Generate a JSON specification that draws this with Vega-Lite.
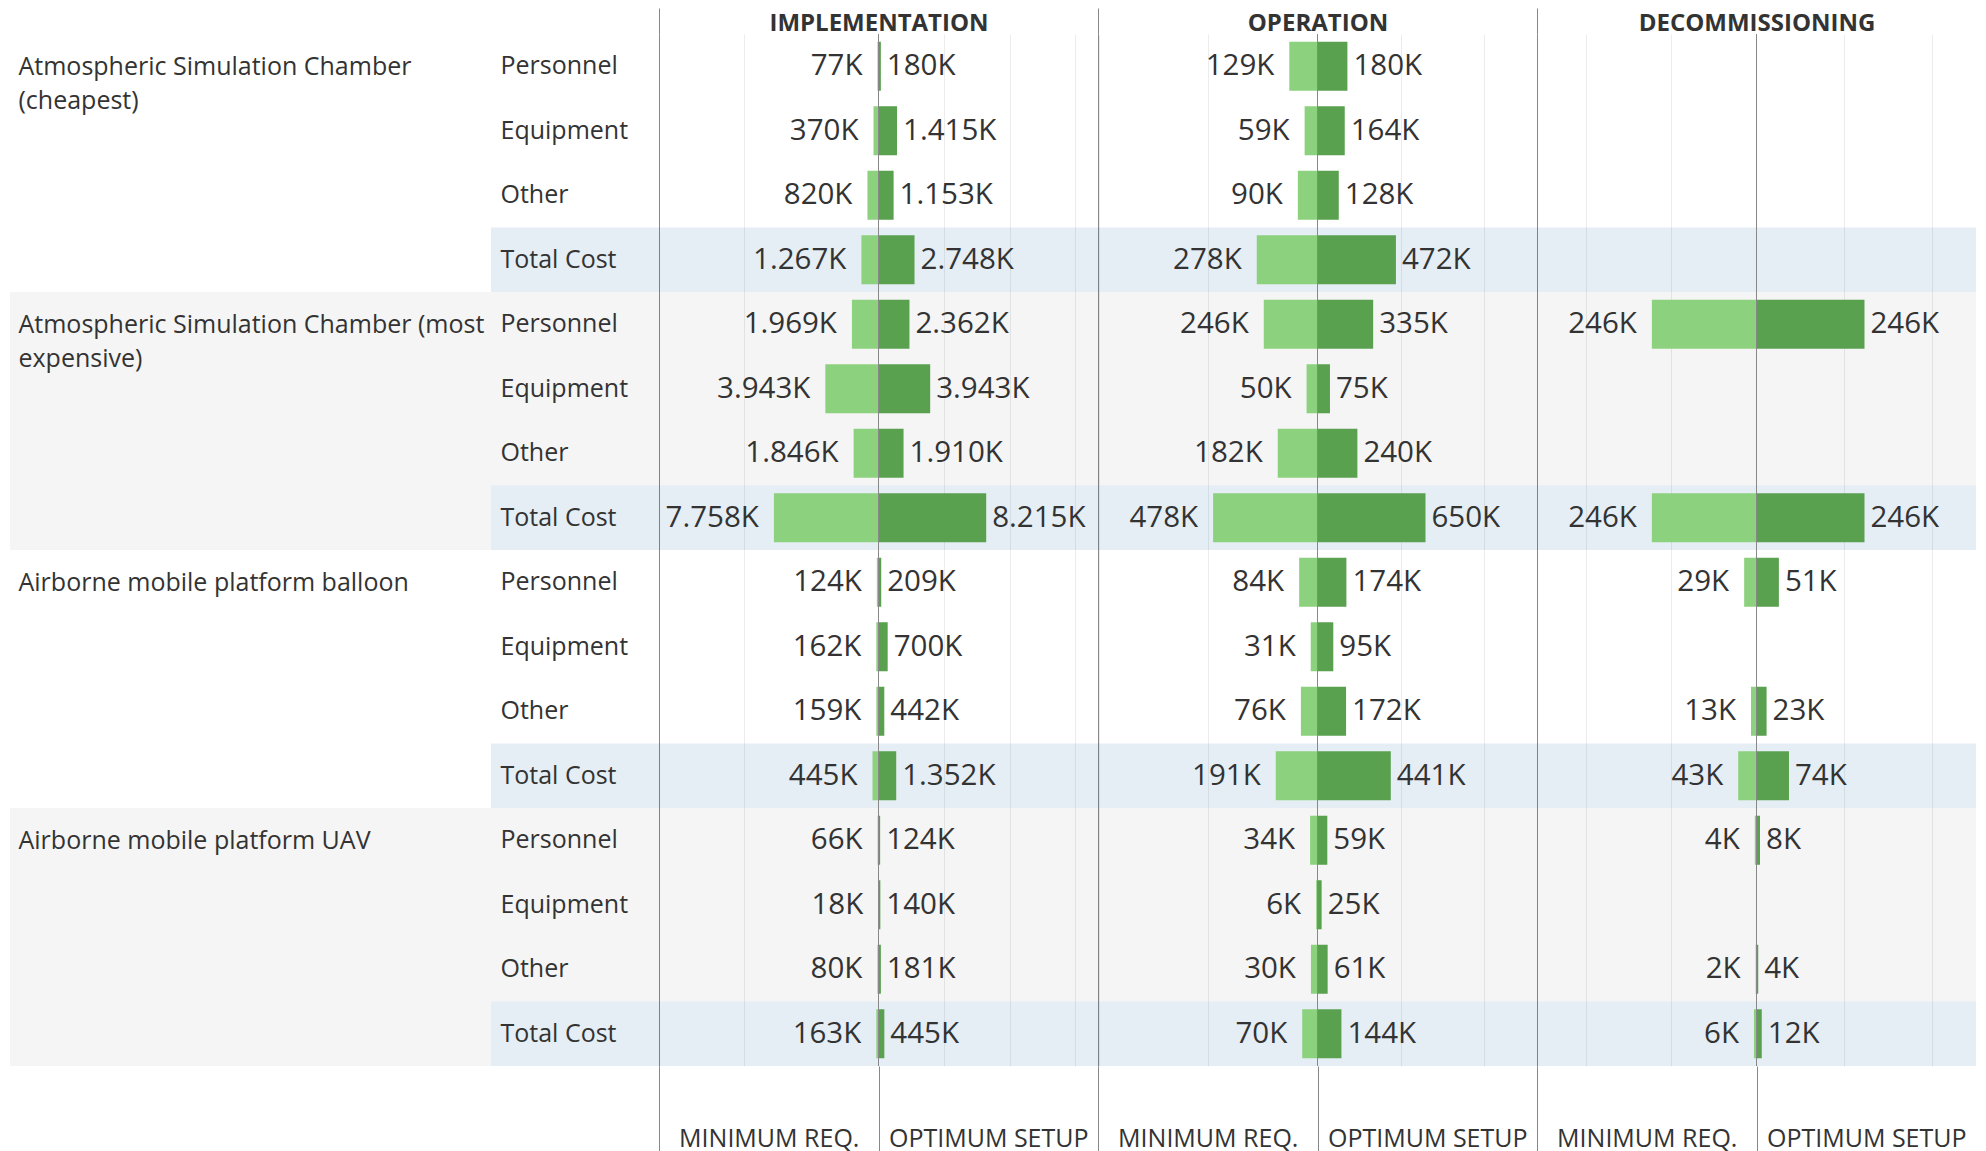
{
  "$schema": "https://vega.github.io/schema/vega-lite/v6.json",
  "padding": {"left": 10, "top": 7, "right": 10, "bottom": 0},
  "bounds": "flush",
  "spacing": 0,
  "background": "white",
  "config": {"view": {"stroke": null}, "font": "Open Sans"},
  "datasets": {
    "costs": [
      {"facility": "Atmospheric Simulation Chamber (cheapest)", "category": "Personnel", "phase": "Implementation", "min": 77, "opt": 180},
      {"facility": "Atmospheric Simulation Chamber (cheapest)", "category": "Equipment", "phase": "Implementation", "min": 370, "opt": 1415},
      {"facility": "Atmospheric Simulation Chamber (cheapest)", "category": "Other", "phase": "Implementation", "min": 820, "opt": 1153},
      {"facility": "Atmospheric Simulation Chamber (cheapest)", "category": "Total Cost", "phase": "Implementation", "min": 1267, "opt": 2748},
      {"facility": "Atmospheric Simulation Chamber (most expensive)", "category": "Personnel", "phase": "Implementation", "min": 1969, "opt": 2362},
      {"facility": "Atmospheric Simulation Chamber (most expensive)", "category": "Equipment", "phase": "Implementation", "min": 3943, "opt": 3943},
      {"facility": "Atmospheric Simulation Chamber (most expensive)", "category": "Other", "phase": "Implementation", "min": 1846, "opt": 1910},
      {"facility": "Atmospheric Simulation Chamber (most expensive)", "category": "Total Cost", "phase": "Implementation", "min": 7758, "opt": 8215},
      {"facility": "Airborne mobile platform balloon", "category": "Personnel", "phase": "Implementation", "min": 124, "opt": 209},
      {"facility": "Airborne mobile platform balloon", "category": "Equipment", "phase": "Implementation", "min": 162, "opt": 700},
      {"facility": "Airborne mobile platform balloon", "category": "Other", "phase": "Implementation", "min": 159, "opt": 442},
      {"facility": "Airborne mobile platform balloon", "category": "Total Cost", "phase": "Implementation", "min": 445, "opt": 1352},
      {"facility": "Airborne mobile platform UAV", "category": "Personnel", "phase": "Implementation", "min": 66, "opt": 124},
      {"facility": "Airborne mobile platform UAV", "category": "Equipment", "phase": "Implementation", "min": 18, "opt": 140},
      {"facility": "Airborne mobile platform UAV", "category": "Other", "phase": "Implementation", "min": 80, "opt": 181},
      {"facility": "Airborne mobile platform UAV", "category": "Total Cost", "phase": "Implementation", "min": 163, "opt": 445},
      {"facility": "Atmospheric Simulation Chamber (cheapest)", "category": "Personnel", "phase": "Operation", "min": 129, "opt": 180},
      {"facility": "Atmospheric Simulation Chamber (cheapest)", "category": "Equipment", "phase": "Operation", "min": 59, "opt": 164},
      {"facility": "Atmospheric Simulation Chamber (cheapest)", "category": "Other", "phase": "Operation", "min": 90, "opt": 128},
      {"facility": "Atmospheric Simulation Chamber (cheapest)", "category": "Total Cost", "phase": "Operation", "min": 278, "opt": 472},
      {"facility": "Atmospheric Simulation Chamber (most expensive)", "category": "Personnel", "phase": "Operation", "min": 246, "opt": 335},
      {"facility": "Atmospheric Simulation Chamber (most expensive)", "category": "Equipment", "phase": "Operation", "min": 50, "opt": 75},
      {"facility": "Atmospheric Simulation Chamber (most expensive)", "category": "Other", "phase": "Operation", "min": 182, "opt": 240},
      {"facility": "Atmospheric Simulation Chamber (most expensive)", "category": "Total Cost", "phase": "Operation", "min": 478, "opt": 650},
      {"facility": "Airborne mobile platform balloon", "category": "Personnel", "phase": "Operation", "min": 84, "opt": 174},
      {"facility": "Airborne mobile platform balloon", "category": "Equipment", "phase": "Operation", "min": 31, "opt": 95},
      {"facility": "Airborne mobile platform balloon", "category": "Other", "phase": "Operation", "min": 76, "opt": 172},
      {"facility": "Airborne mobile platform balloon", "category": "Total Cost", "phase": "Operation", "min": 191, "opt": 441},
      {"facility": "Airborne mobile platform UAV", "category": "Personnel", "phase": "Operation", "min": 34, "opt": 59},
      {"facility": "Airborne mobile platform UAV", "category": "Equipment", "phase": "Operation", "min": 6, "opt": 25},
      {"facility": "Airborne mobile platform UAV", "category": "Other", "phase": "Operation", "min": 30, "opt": 61},
      {"facility": "Airborne mobile platform UAV", "category": "Total Cost", "phase": "Operation", "min": 70, "opt": 144},
      {"facility": "Atmospheric Simulation Chamber (most expensive)", "category": "Personnel", "phase": "Decommissioning", "min": 246, "opt": 246},
      {"facility": "Atmospheric Simulation Chamber (most expensive)", "category": "Total Cost", "phase": "Decommissioning", "min": 246, "opt": 246},
      {"facility": "Airborne mobile platform balloon", "category": "Personnel", "phase": "Decommissioning", "min": 29, "opt": 51},
      {"facility": "Airborne mobile platform balloon", "category": "Other", "phase": "Decommissioning", "min": 13, "opt": 23},
      {"facility": "Airborne mobile platform balloon", "category": "Total Cost", "phase": "Decommissioning", "min": 43, "opt": 74},
      {"facility": "Airborne mobile platform UAV", "category": "Personnel", "phase": "Decommissioning", "min": 4, "opt": 8},
      {"facility": "Airborne mobile platform UAV", "category": "Other", "phase": "Decommissioning", "min": 2, "opt": 4},
      {"facility": "Airborne mobile platform UAV", "category": "Total Cost", "phase": "Decommissioning", "min": 6, "opt": 12}
    ]
  },
  "hconcat": [
    {
      "width": 481, "height": 1032,
      "data": {"name": "costs"},
      "transform": [
        {"filter": "datum.phase == 'Implementation' && (datum.facility == 'Atmospheric Simulation Chamber (most expensive)' || datum.facility == 'Airborne mobile platform UAV')"},
        {"calculate": "datum.facility + '|' + datum.category", "as": "row"}
      ],
      "mark": {"type": "rect", "color": "#000000", "opacity": 0.04},
      "encoding": {
        "y": {"field": "row", "type": "nominal",
          "scale": {"domain": ["Atmospheric Simulation Chamber (cheapest)|Personnel","Atmospheric Simulation Chamber (cheapest)|Equipment","Atmospheric Simulation Chamber (cheapest)|Other","Atmospheric Simulation Chamber (cheapest)|Total Cost","Atmospheric Simulation Chamber (most expensive)|Personnel","Atmospheric Simulation Chamber (most expensive)|Equipment","Atmospheric Simulation Chamber (most expensive)|Other","Atmospheric Simulation Chamber (most expensive)|Total Cost","Airborne mobile platform balloon|Personnel","Airborne mobile platform balloon|Equipment","Airborne mobile platform balloon|Other","Airborne mobile platform balloon|Total Cost","Airborne mobile platform UAV|Personnel","Airborne mobile platform UAV|Equipment","Airborne mobile platform UAV|Other","Airborne mobile platform UAV|Total Cost"], "paddingInner": 0, "paddingOuter": 0},
          "axis": {"orient": "left", "title": null, "domain": false, "ticks": false, "tickSize": 0, "grid": false,
            "labelAlign": "left", "labelPadding": -8, "labelBaseline": "alphabetic", "labelOffset": 9, "labelLineHeight": 34,
            "labelFont": "Open Sans", "labelFontSize": 25, "labelColor": "#333333", "labelLimit": 1000, "labelOverlap": false,
            "minExtent": 0, "zindex": 1,
            "labelExpr": "split(datum.value, '|')[1] == 'Personnel' ? split(replace(replace(split(datum.value, '|')[0], ' (cheapest)', '~(cheapest)'), ' expensive)', '~expensive)'), '~') : ''"}
        }
      }
    },
    {
      "width": 168, "height": 1032,
      "data": {"name": "costs"},
      "transform": [
        {"filter": "datum.phase == 'Implementation' && (datum.category == 'Total Cost' || datum.facility == 'Atmospheric Simulation Chamber (most expensive)' || datum.facility == 'Airborne mobile platform UAV')"},
        {"calculate": "datum.facility + '|' + datum.category", "as": "row"}
      ],
      "mark": {"type": "rect"},
      "encoding": {
        "y": {"field": "row", "type": "nominal",
          "scale": {"domain": ["Atmospheric Simulation Chamber (cheapest)|Personnel","Atmospheric Simulation Chamber (cheapest)|Equipment","Atmospheric Simulation Chamber (cheapest)|Other","Atmospheric Simulation Chamber (cheapest)|Total Cost","Atmospheric Simulation Chamber (most expensive)|Personnel","Atmospheric Simulation Chamber (most expensive)|Equipment","Atmospheric Simulation Chamber (most expensive)|Other","Atmospheric Simulation Chamber (most expensive)|Total Cost","Airborne mobile platform balloon|Personnel","Airborne mobile platform balloon|Equipment","Airborne mobile platform balloon|Other","Airborne mobile platform balloon|Total Cost","Airborne mobile platform UAV|Personnel","Airborne mobile platform UAV|Equipment","Airborne mobile platform UAV|Other","Airborne mobile platform UAV|Total Cost"], "paddingInner": 0, "paddingOuter": 0},
          "axis": {"orient": "left", "title": null, "domain": false, "ticks": false, "tickSize": 0, "grid": false,
            "labelAlign": "left", "labelPadding": -9, "labelBaseline": "middle",
            "labelFont": "Open Sans", "labelFontSize": 25, "labelColor": "#333333", "labelLimit": 1000, "labelOverlap": false,
            "minExtent": 0, "zindex": 1,
            "labelExpr": "split(datum.value, '|')[1]"}
        },
        "color": {"condition": {"test": "datum.category == 'Total Cost'", "value": "#005aa0"}, "value": "#000000"},
        "opacity": {"condition": {"test": "datum.category == 'Total Cost'", "value": 0.1}, "value": 0.04}
      }
    },
    {
      "width": 439, "height": 1032,
      "resolve": {"scale": {"x": "independent"}},
      "layer": [
        {
          "data": {"name": "costs"},
          "transform": [
            {"filter": "datum.phase == 'Implementation' && (datum.category == 'Total Cost' || datum.facility == 'Atmospheric Simulation Chamber (most expensive)' || datum.facility == 'Airborne mobile platform UAV')"},
            {"calculate": "datum.facility + '|' + datum.category", "as": "row"}
          ],
          "mark": {"type": "rect"},
          "encoding": {
            "y": {"field": "row", "type": "nominal", "axis": null,
              "scale": {"domain": ["Atmospheric Simulation Chamber (cheapest)|Personnel","Atmospheric Simulation Chamber (cheapest)|Equipment","Atmospheric Simulation Chamber (cheapest)|Other","Atmospheric Simulation Chamber (cheapest)|Total Cost","Atmospheric Simulation Chamber (most expensive)|Personnel","Atmospheric Simulation Chamber (most expensive)|Equipment","Atmospheric Simulation Chamber (most expensive)|Other","Atmospheric Simulation Chamber (most expensive)|Total Cost","Airborne mobile platform balloon|Personnel","Airborne mobile platform balloon|Equipment","Airborne mobile platform balloon|Other","Airborne mobile platform balloon|Total Cost","Airborne mobile platform UAV|Personnel","Airborne mobile platform UAV|Equipment","Airborne mobile platform UAV|Other","Airborne mobile platform UAV|Total Cost"], "paddingInner": 0, "paddingOuter": 0}},
            "color": {"condition": {"test": "datum.category == 'Total Cost'", "value": "#005aa0"}, "value": "#000000"},
            "opacity": {"condition": {"test": "datum.category == 'Total Cost'", "value": 0.1}, "value": 0.04}
          }
        },
        {
          "data": {"name": "costs"},
          "transform": [
            {"filter": "datum.phase == 'Implementation'"},
            {"calculate": "datum.facility + '|' + datum.category", "as": "row"},
            {"calculate": "replace(format(datum.min, ','), ',', '.') + 'K'", "as": "label"}
          ],
          "encoding": {
            "y": {"field": "row", "type": "nominal", "axis": null,
              "scale": {"domain": ["Atmospheric Simulation Chamber (cheapest)|Personnel","Atmospheric Simulation Chamber (cheapest)|Equipment","Atmospheric Simulation Chamber (cheapest)|Other","Atmospheric Simulation Chamber (cheapest)|Total Cost","Atmospheric Simulation Chamber (most expensive)|Personnel","Atmospheric Simulation Chamber (most expensive)|Equipment","Atmospheric Simulation Chamber (most expensive)|Other","Atmospheric Simulation Chamber (most expensive)|Total Cost","Airborne mobile platform balloon|Personnel","Airborne mobile platform balloon|Equipment","Airborne mobile platform balloon|Other","Airborne mobile platform balloon|Total Cost","Airborne mobile platform UAV|Personnel","Airborne mobile platform UAV|Equipment","Airborne mobile platform UAV|Other","Airborne mobile platform UAV|Total Cost"], "paddingInner": 0, "paddingOuter": 0}},
            "x": {"field": "min", "type": "quantitative",
              "scale": {"domain": [-16280, 16280], "reverse": true, "nice": false, "zero": false},
              "axis": {"orient": "bottom", "values": [16280, 8140, 10000, 0, -8140], "title": null, "domain": false,
                "grid": true,
                "gridColor": {"condition": [{"test": "datum.value == 16280", "value": "#888888"}, {"test": "datum.value == 0 || datum.value == 8140 || datum.value == -8140", "value": "transparent"}], "value": "#ececec"},
                "ticks": true, "tickSize": 86, "tickColor": "#888888", "tickWidth": 1,
                "tickOpacity": {"condition": {"test": "datum.value == 0 || datum.value == 16280", "value": 1}, "value": 0},
                "labelExpr": "datum.value == 8140 ? 'MINIMUM REQ.' : datum.value == -8140 ? 'OPTIMUM SETUP' : ''",
                "labelPadding": -6, "labelBaseline": "alphabetic", "labelAlign": "center", "labelFont": "Open Sans", "labelFontSize": 25,
                "labelColor": "#333333", "labelFlush": false, "labelOverlap": false, "labelLimit": 1000, "minExtent": 0}}
          },
          "layer": [
            {"mark": {"type": "bar", "height": {"band": 0.76}, "color": "#8CD17D"}, "encoding": {"x2": {"datum": 0}}},
            {"mark": {"type": "text", "align": "right", "dx": -15, "baseline": "middle", "font": "Open Sans", "fontSize": 29.5, "color": "#333333"},
             "encoding": {"text": {"field": "label"}}}
          ]
        },
        {
          "data": {"name": "costs"},
          "transform": [
            {"filter": "datum.phase == 'Implementation'"},
            {"calculate": "datum.facility + '|' + datum.category", "as": "row"},
            {"calculate": "replace(format(datum.opt, ','), ',', '.') + 'K'", "as": "label"}
          ],
          "encoding": {
            "y": {"field": "row", "type": "nominal", "axis": null,
              "scale": {"domain": ["Atmospheric Simulation Chamber (cheapest)|Personnel","Atmospheric Simulation Chamber (cheapest)|Equipment","Atmospheric Simulation Chamber (cheapest)|Other","Atmospheric Simulation Chamber (cheapest)|Total Cost","Atmospheric Simulation Chamber (most expensive)|Personnel","Atmospheric Simulation Chamber (most expensive)|Equipment","Atmospheric Simulation Chamber (most expensive)|Other","Atmospheric Simulation Chamber (most expensive)|Total Cost","Airborne mobile platform balloon|Personnel","Airborne mobile platform balloon|Equipment","Airborne mobile platform balloon|Other","Airborne mobile platform balloon|Total Cost","Airborne mobile platform UAV|Personnel","Airborne mobile platform UAV|Equipment","Airborne mobile platform UAV|Other","Airborne mobile platform UAV|Total Cost"], "paddingInner": 0, "paddingOuter": 0}},
            "x": {"field": "opt", "type": "quantitative",
              "scale": {"domain": [-16743, 16743], "nice": false, "zero": false},
              "axis": {"orient": "top", "values": [-16743, 5000, 10000, 15000], "domain": false, "labels": false,
                "title": "IMPLEMENTATION", "titleFont": "Open Sans", "titleFontSize": 24, "titleFontWeight": "bold", "titleColor": "#333333", "titlePadding": -28,
                "grid": true,
                "gridColor": {"condition": {"test": "datum.value == -16743", "value": "transparent"}, "value": "#ececec"},
                "ticks": true, "tickSize": 26, "tickColor": "#888888", "tickWidth": 1,
                "tickOpacity": {"condition": {"test": "datum.value == -16743", "value": 1}, "value": 0},
                "minExtent": 0}}
          },
          "layer": [
            {"mark": {"type": "bar", "height": {"band": 0.76}, "color": "#59A14F"}, "encoding": {"x2": {"datum": 0}}},
            {"mark": {"type": "text", "align": "left", "dx": 6, "baseline": "middle", "font": "Open Sans", "fontSize": 29.5, "color": "#333333"},
             "encoding": {"text": {"field": "label"}}}
          ]
        },
        {
          "data": {"values": [{"center": 0}]},
          "mark": {"type": "rule", "color": "#888888", "strokeWidth": 1},
          "encoding": {"x": {"field": "center", "type": "quantitative", "scale": {"domain": [-1, 1]}, "axis": null}}
        }
      ]
    },
    {
      "width": 439, "height": 1032,
      "resolve": {"scale": {"x": "independent"}},
      "layer": [
        {
          "data": {"name": "costs"},
          "transform": [
            {"filter": "datum.phase == 'Implementation' && (datum.category == 'Total Cost' || datum.facility == 'Atmospheric Simulation Chamber (most expensive)' || datum.facility == 'Airborne mobile platform UAV')"},
            {"calculate": "datum.facility + '|' + datum.category", "as": "row"}
          ],
          "mark": {"type": "rect"},
          "encoding": {
            "y": {"field": "row", "type": "nominal", "axis": null,
              "scale": {"domain": ["Atmospheric Simulation Chamber (cheapest)|Personnel","Atmospheric Simulation Chamber (cheapest)|Equipment","Atmospheric Simulation Chamber (cheapest)|Other","Atmospheric Simulation Chamber (cheapest)|Total Cost","Atmospheric Simulation Chamber (most expensive)|Personnel","Atmospheric Simulation Chamber (most expensive)|Equipment","Atmospheric Simulation Chamber (most expensive)|Other","Atmospheric Simulation Chamber (most expensive)|Total Cost","Airborne mobile platform balloon|Personnel","Airborne mobile platform balloon|Equipment","Airborne mobile platform balloon|Other","Airborne mobile platform balloon|Total Cost","Airborne mobile platform UAV|Personnel","Airborne mobile platform UAV|Equipment","Airborne mobile platform UAV|Other","Airborne mobile platform UAV|Total Cost"], "paddingInner": 0, "paddingOuter": 0}},
            "color": {"condition": {"test": "datum.category == 'Total Cost'", "value": "#005aa0"}, "value": "#000000"},
            "opacity": {"condition": {"test": "datum.category == 'Total Cost'", "value": 0.1}, "value": 0.04}
          }
        },
        {
          "data": {"name": "costs"},
          "transform": [
            {"filter": "datum.phase == 'Operation'"},
            {"calculate": "datum.facility + '|' + datum.category", "as": "row"},
            {"calculate": "replace(format(datum.min, ','), ',', '.') + 'K'", "as": "label"}
          ],
          "encoding": {
            "y": {"field": "row", "type": "nominal", "axis": null,
              "scale": {"domain": ["Atmospheric Simulation Chamber (cheapest)|Personnel","Atmospheric Simulation Chamber (cheapest)|Equipment","Atmospheric Simulation Chamber (cheapest)|Other","Atmospheric Simulation Chamber (cheapest)|Total Cost","Atmospheric Simulation Chamber (most expensive)|Personnel","Atmospheric Simulation Chamber (most expensive)|Equipment","Atmospheric Simulation Chamber (most expensive)|Other","Atmospheric Simulation Chamber (most expensive)|Total Cost","Airborne mobile platform balloon|Personnel","Airborne mobile platform balloon|Equipment","Airborne mobile platform balloon|Other","Airborne mobile platform balloon|Total Cost","Airborne mobile platform UAV|Personnel","Airborne mobile platform UAV|Equipment","Airborne mobile platform UAV|Other","Airborne mobile platform UAV|Total Cost"], "paddingInner": 0, "paddingOuter": 0}},
            "x": {"field": "min", "type": "quantitative",
              "scale": {"domain": [-1005, 1005], "reverse": true, "nice": false, "zero": false},
              "axis": {"orient": "bottom", "values": [1005, 502.5, 500, 1000, 0, -502.5], "title": null, "domain": false,
                "grid": true,
                "gridColor": {"condition": [{"test": "datum.value == 1005", "value": "#888888"}, {"test": "datum.value == 0 || datum.value == 502.5 || datum.value == -502.5", "value": "transparent"}], "value": "#ececec"},
                "ticks": true, "tickSize": 86, "tickColor": "#888888", "tickWidth": 1,
                "tickOpacity": {"condition": {"test": "datum.value == 0 || datum.value == 1005", "value": 1}, "value": 0},
                "labelExpr": "datum.value == 502.5 ? 'MINIMUM REQ.' : datum.value == -502.5 ? 'OPTIMUM SETUP' : ''",
                "labelPadding": -6, "labelBaseline": "alphabetic", "labelAlign": "center", "labelFont": "Open Sans", "labelFontSize": 25,
                "labelColor": "#333333", "labelFlush": false, "labelOverlap": false, "labelLimit": 1000, "minExtent": 0}}
          },
          "layer": [
            {"mark": {"type": "bar", "height": {"band": 0.76}, "color": "#8CD17D"}, "encoding": {"x2": {"datum": 0}}},
            {"mark": {"type": "text", "align": "right", "dx": -15, "baseline": "middle", "font": "Open Sans", "fontSize": 29.5, "color": "#333333"},
             "encoding": {"text": {"field": "label"}}}
          ]
        },
        {
          "data": {"name": "costs"},
          "transform": [
            {"filter": "datum.phase == 'Operation'"},
            {"calculate": "datum.facility + '|' + datum.category", "as": "row"},
            {"calculate": "replace(format(datum.opt, ','), ',', '.') + 'K'", "as": "label"}
          ],
          "encoding": {
            "y": {"field": "row", "type": "nominal", "axis": null,
              "scale": {"domain": ["Atmospheric Simulation Chamber (cheapest)|Personnel","Atmospheric Simulation Chamber (cheapest)|Equipment","Atmospheric Simulation Chamber (cheapest)|Other","Atmospheric Simulation Chamber (cheapest)|Total Cost","Atmospheric Simulation Chamber (most expensive)|Personnel","Atmospheric Simulation Chamber (most expensive)|Equipment","Atmospheric Simulation Chamber (most expensive)|Other","Atmospheric Simulation Chamber (most expensive)|Total Cost","Airborne mobile platform balloon|Personnel","Airborne mobile platform balloon|Equipment","Airborne mobile platform balloon|Other","Airborne mobile platform balloon|Total Cost","Airborne mobile platform UAV|Personnel","Airborne mobile platform UAV|Equipment","Airborne mobile platform UAV|Other","Airborne mobile platform UAV|Total Cost"], "paddingInner": 0, "paddingOuter": 0}},
            "x": {"field": "opt", "type": "quantitative",
              "scale": {"domain": [-1321, 1321], "nice": false, "zero": false},
              "axis": {"orient": "top", "values": [-1321, 500, 1000], "domain": false, "labels": false,
                "title": "OPERATION", "titleFont": "Open Sans", "titleFontSize": 24, "titleFontWeight": "bold", "titleColor": "#333333", "titlePadding": -28,
                "grid": true,
                "gridColor": {"condition": {"test": "datum.value == -1321", "value": "transparent"}, "value": "#ececec"},
                "ticks": true, "tickSize": 26, "tickColor": "#888888", "tickWidth": 1,
                "tickOpacity": {"condition": {"test": "datum.value == -1321", "value": 1}, "value": 0},
                "minExtent": 0}}
          },
          "layer": [
            {"mark": {"type": "bar", "height": {"band": 0.76}, "color": "#59A14F"}, "encoding": {"x2": {"datum": 0}}},
            {"mark": {"type": "text", "align": "left", "dx": 6, "baseline": "middle", "font": "Open Sans", "fontSize": 29.5, "color": "#333333"},
             "encoding": {"text": {"field": "label"}}}
          ]
        },
        {
          "data": {"values": [{"center": 0}]},
          "mark": {"type": "rule", "color": "#888888", "strokeWidth": 1},
          "encoding": {"x": {"field": "center", "type": "quantitative", "scale": {"domain": [-1, 1]}, "axis": null}}
        }
      ]
    },
    {
      "width": 439, "height": 1032,
      "resolve": {"scale": {"x": "independent"}},
      "layer": [
        {
          "data": {"name": "costs"},
          "transform": [
            {"filter": "datum.phase == 'Implementation' && (datum.category == 'Total Cost' || datum.facility == 'Atmospheric Simulation Chamber (most expensive)' || datum.facility == 'Airborne mobile platform UAV')"},
            {"calculate": "datum.facility + '|' + datum.category", "as": "row"}
          ],
          "mark": {"type": "rect"},
          "encoding": {
            "y": {"field": "row", "type": "nominal", "axis": null,
              "scale": {"domain": ["Atmospheric Simulation Chamber (cheapest)|Personnel","Atmospheric Simulation Chamber (cheapest)|Equipment","Atmospheric Simulation Chamber (cheapest)|Other","Atmospheric Simulation Chamber (cheapest)|Total Cost","Atmospheric Simulation Chamber (most expensive)|Personnel","Atmospheric Simulation Chamber (most expensive)|Equipment","Atmospheric Simulation Chamber (most expensive)|Other","Atmospheric Simulation Chamber (most expensive)|Total Cost","Airborne mobile platform balloon|Personnel","Airborne mobile platform balloon|Equipment","Airborne mobile platform balloon|Other","Airborne mobile platform balloon|Total Cost","Airborne mobile platform UAV|Personnel","Airborne mobile platform UAV|Equipment","Airborne mobile platform UAV|Other","Airborne mobile platform UAV|Total Cost"], "paddingInner": 0, "paddingOuter": 0}},
            "color": {"condition": {"test": "datum.category == 'Total Cost'", "value": "#005aa0"}, "value": "#000000"},
            "opacity": {"condition": {"test": "datum.category == 'Total Cost'", "value": 0.1}, "value": 0.04}
          }
        },
        {
          "data": {"name": "costs"},
          "transform": [
            {"filter": "datum.phase == 'Decommissioning'"},
            {"calculate": "datum.facility + '|' + datum.category", "as": "row"},
            {"calculate": "replace(format(datum.min, ','), ',', '.') + 'K'", "as": "label"}
          ],
          "encoding": {
            "y": {"field": "row", "type": "nominal", "axis": null,
              "scale": {"domain": ["Atmospheric Simulation Chamber (cheapest)|Personnel","Atmospheric Simulation Chamber (cheapest)|Equipment","Atmospheric Simulation Chamber (cheapest)|Other","Atmospheric Simulation Chamber (cheapest)|Total Cost","Atmospheric Simulation Chamber (most expensive)|Personnel","Atmospheric Simulation Chamber (most expensive)|Equipment","Atmospheric Simulation Chamber (most expensive)|Other","Atmospheric Simulation Chamber (most expensive)|Total Cost","Airborne mobile platform balloon|Personnel","Airborne mobile platform balloon|Equipment","Airborne mobile platform balloon|Other","Airborne mobile platform balloon|Total Cost","Airborne mobile platform UAV|Personnel","Airborne mobile platform UAV|Equipment","Airborne mobile platform UAV|Other","Airborne mobile platform UAV|Total Cost"], "paddingInner": 0, "paddingOuter": 0}},
            "x": {"field": "min", "type": "quantitative",
              "scale": {"domain": [-516, 516], "reverse": true, "nice": false, "zero": false},
              "axis": {"orient": "bottom", "values": [516, 258, 200, 400, 0, -258], "title": null, "domain": false,
                "grid": true,
                "gridColor": {"condition": [{"test": "datum.value == 516", "value": "#888888"}, {"test": "datum.value == 0 || datum.value == 258 || datum.value == -258", "value": "transparent"}], "value": "#ececec"},
                "ticks": true, "tickSize": 86, "tickColor": "#888888", "tickWidth": 1,
                "tickOpacity": {"condition": {"test": "datum.value == 0 || datum.value == 516", "value": 1}, "value": 0},
                "labelExpr": "datum.value == 258 ? 'MINIMUM REQ.' : datum.value == -258 ? 'OPTIMUM SETUP' : ''",
                "labelPadding": -6, "labelBaseline": "alphabetic", "labelAlign": "center", "labelFont": "Open Sans", "labelFontSize": 25,
                "labelColor": "#333333", "labelFlush": false, "labelOverlap": false, "labelLimit": 1000, "minExtent": 0}}
          },
          "layer": [
            {"mark": {"type": "bar", "height": {"band": 0.76}, "color": "#8CD17D"}, "encoding": {"x2": {"datum": 0}}},
            {"mark": {"type": "text", "align": "right", "dx": -15, "baseline": "middle", "font": "Open Sans", "fontSize": 29.5, "color": "#333333"},
             "encoding": {"text": {"field": "label"}}}
          ]
        },
        {
          "data": {"name": "costs"},
          "transform": [
            {"filter": "datum.phase == 'Decommissioning'"},
            {"calculate": "datum.facility + '|' + datum.category", "as": "row"},
            {"calculate": "replace(format(datum.opt, ','), ',', '.') + 'K'", "as": "label"}
          ],
          "encoding": {
            "y": {"field": "row", "type": "nominal", "axis": null,
              "scale": {"domain": ["Atmospheric Simulation Chamber (cheapest)|Personnel","Atmospheric Simulation Chamber (cheapest)|Equipment","Atmospheric Simulation Chamber (cheapest)|Other","Atmospheric Simulation Chamber (cheapest)|Total Cost","Atmospheric Simulation Chamber (most expensive)|Personnel","Atmospheric Simulation Chamber (most expensive)|Equipment","Atmospheric Simulation Chamber (most expensive)|Other","Atmospheric Simulation Chamber (most expensive)|Total Cost","Airborne mobile platform balloon|Personnel","Airborne mobile platform balloon|Equipment","Airborne mobile platform balloon|Other","Airborne mobile platform balloon|Total Cost","Airborne mobile platform UAV|Personnel","Airborne mobile platform UAV|Equipment","Airborne mobile platform UAV|Other","Airborne mobile platform UAV|Total Cost"], "paddingInner": 0, "paddingOuter": 0}},
            "x": {"field": "opt", "type": "quantitative",
              "scale": {"domain": [-500, 500], "nice": false, "zero": false},
              "axis": {"orient": "top", "values": [-500, 200, 400], "domain": false, "labels": false,
                "title": "DECOMMISSIONING", "titleFont": "Open Sans", "titleFontSize": 24, "titleFontWeight": "bold", "titleColor": "#333333", "titlePadding": -28,
                "grid": true,
                "gridColor": {"condition": {"test": "datum.value == -500", "value": "transparent"}, "value": "#ececec"},
                "ticks": true, "tickSize": 26, "tickColor": "#888888", "tickWidth": 1,
                "tickOpacity": {"condition": {"test": "datum.value == -500", "value": 1}, "value": 0},
                "minExtent": 0}}
          },
          "layer": [
            {"mark": {"type": "bar", "height": {"band": 0.76}, "color": "#59A14F"}, "encoding": {"x2": {"datum": 0}}},
            {"mark": {"type": "text", "align": "left", "dx": 6, "baseline": "middle", "font": "Open Sans", "fontSize": 29.5, "color": "#333333"},
             "encoding": {"text": {"field": "label"}}}
          ]
        },
        {
          "data": {"values": [{"center": 0}]},
          "mark": {"type": "rule", "color": "#888888", "strokeWidth": 1},
          "encoding": {"x": {"field": "center", "type": "quantitative", "scale": {"domain": [-1, 1]}, "axis": null}}
        }
      ]
    }
  ]
}
